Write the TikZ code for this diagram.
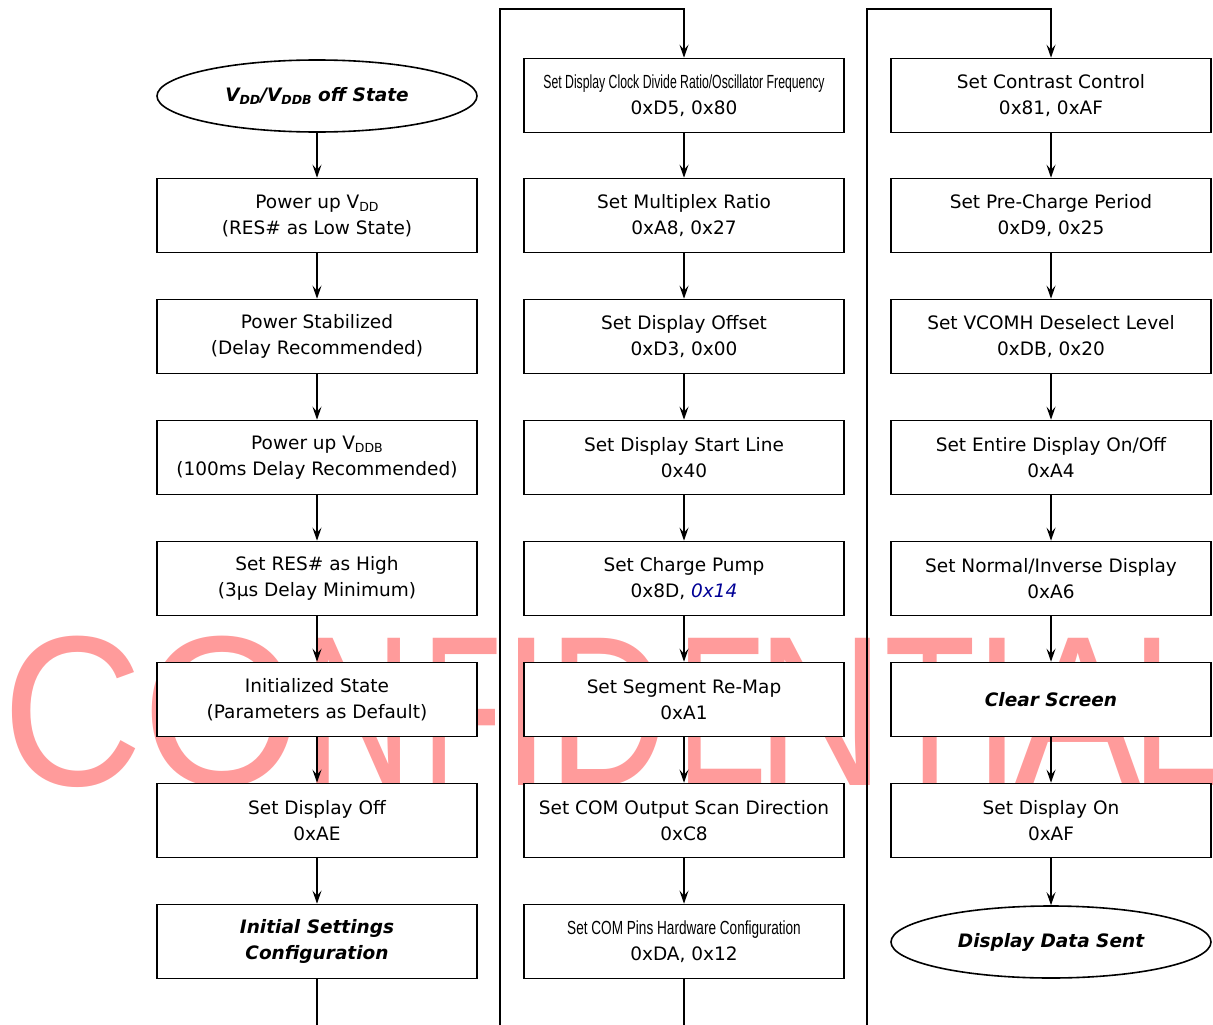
\documentclass[tikz,border=0pt]{standalone}
\usepackage{fontspec}
\setmainfont{DejaVu Sans}
\newfontfamily\wmfont{Liberation Sans}
\newfontfamily\narrowfont{Liberation Sans}
\usetikzlibrary{shapes.geometric,arrows.meta}
\definecolor{navyc}{RGB}{0,0,150}
\definecolor{wmpink}{RGB}{255,155,155}
\newcommand\subx[1]{\raisebox{-0.18em}{\fontsize{12.5}{12.5}\selectfont #1}}
\newcommand\narrowline[2]{\scalebox{#1}[1]{\fontsize{19}{22}\selectfont\narrowfont #2}}
\newcommand\wmletter[4]{\node[anchor=base,inner sep=0pt,text=wmpink] (#4) at (#1,785) {\scalebox{#2}[1]{\fontsize{214}{214}\selectfont\wmfont #3}};}
\tikzset{
  stepbox/.style={draw, line width=1.6pt, fill=white, minimum width=320pt, minimum height=74pt,
    align=center, inner sep=0pt, font=\fontsize{18.5}{26}\selectfont},
  termnode/.style={ellipse, draw, line width=1.6pt, fill=white, minimum width=320pt, minimum height=72pt,
    align=center, inner sep=0pt, font=\fontsize{18.5}{26}\selectfont\bfseries\itshape},
  arr/.style={-{Stealth[length=13pt,width=9pt,inset=5pt]}, line width=1.5pt},
  plain/.style={line width=1.5pt}
}
\begin{document}
\begin{tikzpicture}[x=1pt,y=-1pt]
\useasboundingbox (0,0) rectangle (1213,1025);
% watermark
\wmletter{72.5}{0.91}{C}{w1}
\wmletter{222}{0.96}{O}{w2}
\wmletter{359}{0.70}{N}{w3}
\wmletter{462}{0.61}{F}{w4}
\wmletter{526.5}{0.81}{I}{w5}
\wmletter{609}{0.78}{D}{w6}
\wmletter{722}{0.63}{E}{w7}
\wmletter{821}{0.83}{N}{w8}
\wmletter{930.5}{0.70}{T}{w9}
\wmletter{997.5}{0.77}{I}{w10}
\wmletter{1078}{0.89}{A}{w11}
\wmletter{1176}{0.75}{L}{w12}
% column 1
\node[termnode] (s0) at (317,96) {V\subx{DD}/V\subx{DDB} off State};
\node[stepbox] (a1) at (317,215.5) {Power up V\subx{DD}\\(RES\# as Low State)};
\node[stepbox] (a2) at (317,336.5) {Power Stabilized\\(Delay Recommended)};
\node[stepbox] (a3) at (317,457.5) {Power up V\subx{DDB}\\(100ms Delay Recommended)};
\node[stepbox] (a4) at (317,578.5) {Set RES\# as High\\(3µs Delay Minimum)};
\node[stepbox] (a5) at (317,699.5) {Initialized State\\(Parameters as Default)};
\node[stepbox] (a6) at (317,820.5) {Set Display Off\\0xAE};
\node[stepbox, font=\fontsize{18.5}{26}\selectfont\bfseries\itshape] (a7) at (317,941.5) {Initial Settings\\Configuration};
% column 2
\node[stepbox] (b0) at (684,95.5) {\narrowline{0.645}{Set Display Clock Divide Ratio/Oscillator Frequency}\\0xD5, 0x80};
\node[stepbox] (b1) at (684,215.5) {Set Multiplex Ratio\\0xA8, 0x27};
\node[stepbox] (b2) at (684,336.5) {Set Display Offset\\0xD3, 0x00};
\node[stepbox] (b3) at (684,457.5) {Set Display Start Line\\0x40};
\node[stepbox] (b4) at (684,578.5) {Set Charge Pump\\0x8D, {\color{navyc}\itshape 0x14}};
\node[stepbox] (b5) at (684,699.5) {Set Segment Re-Map\\0xA1};
\node[stepbox] (b6) at (684,820.5) {Set COM Output Scan Direction\\0xC8};
\node[stepbox] (b7) at (684,941.5) {\narrowline{0.716}{Set COM Pins Hardware Configuration}\\0xDA, 0x12};
% column 3
\node[stepbox] (c0) at (1051,95.5) {Set Contrast Control\\0x81, 0xAF};
\node[stepbox] (c1) at (1051,215.5) {Set Pre-Charge Period\\0xD9, 0x25};
\node[stepbox] (c2) at (1051,336.5) {Set VCOMH Deselect Level\\0xDB, 0x20};
\node[stepbox] (c3) at (1051,457.5) {Set Entire Display On/Off\\0xA4};
\node[stepbox] (c4) at (1051,578.5) {Set Normal/Inverse Display\\0xA6};
\node[stepbox, font=\fontsize{18.5}{26}\selectfont\bfseries\itshape] (c5) at (1051,699.5) {Clear Screen};
\node[stepbox] (c6) at (1051,820.5) {Set Display On\\0xAF};
\node[termnode] (c7) at (1051,942) {Display Data Sent};
% connectors column 1
\draw[arr] (s0.south) -- (a1.north);
\draw[arr] (a1.south) -- (a2.north);
\draw[arr] (a2.south) -- (a3.north);
\draw[arr] (a3.south) -- (a4.north);
\draw[arr] (a4.south) -- (a5.north);
\draw[arr] (a5.south) -- (a6.north);
\draw[arr] (a6.south) -- (a7.north);
\coordinate (e1) at (317,1025);
\draw[plain] (a7.south) -- (e1);
% column 2
\coordinate (l2b) at (500,1025);
\coordinate (l2t) at (500,9);
\draw[arr] (l2b) -- (l2t) -| (b0.north);
\draw[arr] (b0.south) -- (b1.north);
\draw[arr] (b1.south) -- (b2.north);
\draw[arr] (b2.south) -- (b3.north);
\draw[arr] (b3.south) -- (b4.north);
\draw[arr] (b4.south) -- (b5.north);
\draw[arr] (b5.south) -- (b6.north);
\draw[arr] (b6.south) -- (b7.north);
\coordinate (e2) at (684,1025);
\draw[plain] (b7.south) -- (e2);
% column 3
\coordinate (l3b) at (867,1025);
\coordinate (l3t) at (867,9);
\draw[arr] (l3b) -- (l3t) -| (c0.north);
\draw[arr] (c0.south) -- (c1.north);
\draw[arr] (c1.south) -- (c2.north);
\draw[arr] (c2.south) -- (c3.north);
\draw[arr] (c3.south) -- (c4.north);
\draw[arr] (c4.south) -- (c5.north);
\draw[arr] (c5.south) -- (c6.north);
\draw[arr] (c6.south) -- (c7.north);
\end{tikzpicture}
\end{document}
